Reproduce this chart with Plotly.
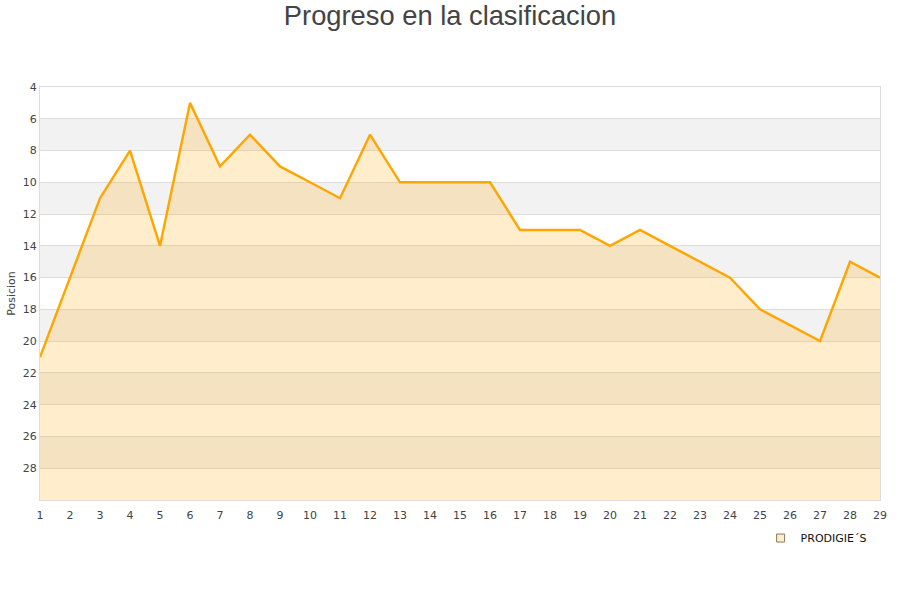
import plotly.graph_objects as go

jornadas = list(range(1, 30))
posiciones = [21, 16, 11, 8, 14, 5, 9, 7, 9, 10, 11, 7, 10, 10, 10, 10, 13, 13, 13, 14, 13, 14, 15, 16, 18, 19, 20, 15, 16]
equipo = "PRODIGIE´S"
y_ticks = [4, 6, 8, 10, 12, 14, 16, 18, 20, 22, 24, 26, 28]
fondo = 30

fig = go.Figure()
fig.add_trace(go.Scatter(x=jornadas, y=[fondo] * len(jornadas), mode="lines",
                         line=dict(width=0), showlegend=False, hoverinfo="skip"))
fig.add_trace(go.Scatter(x=jornadas, y=posiciones, mode="lines", fill="tonexty",
                         fillcolor="rgba(255,165,0,0.2)",
                         line=dict(color="#FFA500", width=2.4), showlegend=False))
fig.add_trace(go.Scatter(x=[None], y=[None], mode="markers", name=equipo,
                         marker=dict(symbol="square", size=8, color="#FFEECC",
                                     line=dict(color="#8a7a5a", width=1))))

shapes = []
for lo in range(6, 30, 4):
    shapes.append(dict(type="rect", xref="paper", yref="y", x0=0, x1=1, y0=lo, y1=lo + 2,
                       fillcolor="#F2F2F2", line=dict(width=0), layer="below"))
fig.update_layout(shapes=shapes)

fig.update_layout(
    width=900, height=600,
    paper_bgcolor="white", plot_bgcolor="white",
    margin=dict(l=40, r=20, t=87, b=100, autoexpand=False),
    font=dict(family="DejaVu Sans", size=11, color="#444"),
    title=dict(text="Progreso en la clasificacion", x=0.5, xanchor="center",
               yref="container", y=0.975, yanchor="middle",
               font=dict(family="Liberation Sans, Arial", size=27.3, color="#444")),
    xaxis=dict(range=[1, 29], tickvals=jornadas, showgrid=False, zeroline=False,
               showline=True, linecolor="#DDDDDD", mirror=True, ticks="", automargin=False,
               ticklabelstandoff=5, tickfont=dict(size=11)),
    yaxis=dict(range=[30, 4], tickvals=y_ticks, showgrid=True, gridcolor="#DDDDDD",
               zeroline=False, showline=True, linecolor="#DDDDDD", mirror=True, ticks="",
               automargin=False,
               title=dict(text="Posicion", font=dict(size=11), standoff=4),
               tickfont=dict(size=11)),
    legend=dict(x=0.99, y=-0.057, xanchor="right", yanchor="top", orientation="h",
                font=dict(size=11, color="#111")),
)

fig.write_html("out.html", config={"displayModeBar": False},
               post_script="document.body.style.margin='0';")
